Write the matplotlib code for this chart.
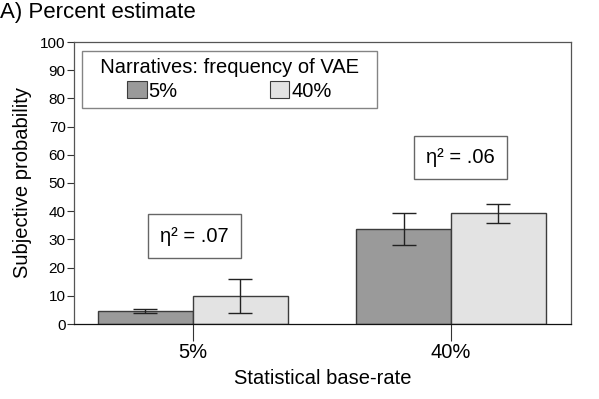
import numpy as np
import matplotlib.pyplot as plt
from matplotlib.patches import Patch

plt.rcParams['font.family'] = ['Liberation Sans', 'DejaVu Sans']

base_rates = ['5%', '40%']
narrative_labels = ['5%', '40%']
means_5 = [4.6, 33.7]
errs_5 = [0.6, 5.8]
means_40 = [10.0, 39.2]
errs_40 = [6.1, 3.5]
eta_labels = ['η² = .07', 'η² = .06']

dark = '#9a9a9a'
light = '#e3e3e3'
edge = '#3c3c3c'

fig = plt.figure(figsize=(5.99, 3.99), dpi=100)
ax = fig.add_axes([74 / 599, 1 - 324 / 399, 497 / 599, 282 / 399])

x = np.arange(len(base_rates))
w = 0.368
ax.bar(x - w / 2, means_5, w, color=dark, edgecolor=edge, linewidth=1.0, zorder=2)
ax.bar(x + w / 2, means_40, w, color=light, edgecolor=edge, linewidth=1.0, zorder=2)
ax.errorbar(x - w / 2, means_5, yerr=errs_5, fmt='none', ecolor='#222222',
            elinewidth=1.0, capsize=8.7, capthick=1.0, zorder=3)
ax.errorbar(x + w / 2, means_40, yerr=errs_40, fmt='none', ecolor='#222222',
            elinewidth=1.0, capsize=8.7, capthick=1.0, zorder=3)

ax.set_xlim(-0.461, 1.465)
ax.set_ylim(0, 100)
ax.set_yticks(np.arange(0, 101, 10))
ax.set_xticks(x)
ax.set_xticklabels(base_rates, fontsize=14.5)
ax.tick_params(axis='y', direction='out', length=5, width=0.8, labelsize=11, pad=1,
               color='#333333')
ax.tick_params(axis='x', direction='out', length=12, width=0.8, pad=1.5, color='#333333')
for s in ax.spines.values():
    s.set_color('#555555')
    s.set_linewidth(0.9)
ax.spines['bottom'].set_color('#111111')

ax.set_xlabel('Statistical base-rate', fontsize=14.5, labelpad=5)
ax.set_ylabel('Subjective probability', fontsize=14.5, labelpad=6)

box = dict(boxstyle='square,pad=0.6', facecolor='white', edgecolor='#666666', linewidth=1.0)
ax.text(0.005, 31.2, eta_labels[0], fontsize=14.5, ha='center', va='center', bbox=box, zorder=4)
ax.text(1.037, 58.9, eta_labels[1], fontsize=14.5, ha='center', va='center', bbox=box, zorder=4)

handles = [Patch(facecolor=dark, edgecolor=edge, linewidth=0.8),
           Patch(facecolor=light, edgecolor=edge, linewidth=0.8)]
leg = ax.legend(handles, narrative_labels, ncol=2, title='  Narratives: frequency of VAE  ',
                loc='upper left', bbox_to_anchor=(0.016, 0.968), borderaxespad=0,
                fontsize=14.5, title_fontsize=14.5, frameon=True, fancybox=False,
                handlelength=0.95, handleheight=0.95, handletextpad=0.1,
                columnspacing=4.6, borderpad=0.35, labelspacing=0.2)
leg.get_frame().set_edgecolor('#666666')
leg.get_frame().set_linewidth(1.0)

fig.text(0.0, 0.995, 'A) Percent estimate', fontsize=16, ha='left', va='top')

fig.savefig('out.png', dpi=100)
